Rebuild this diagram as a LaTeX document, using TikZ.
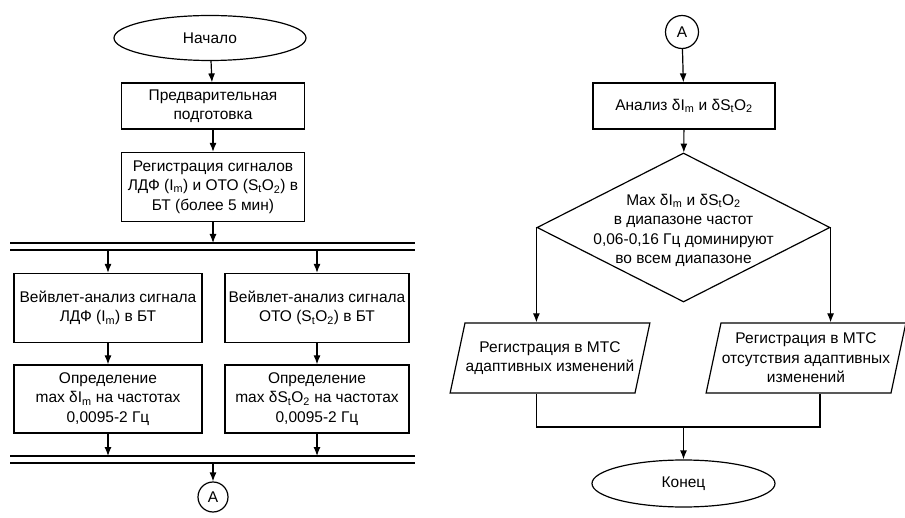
\documentclass[tikz,border=0pt]{standalone}
\usepackage{fontspec}
\setmainfont{Liberation Sans}
\usetikzlibrary{shapes.geometric, arrows.meta, positioning}

\begin{document}
\begin{tikzpicture}[x=1pt, y=-1pt, line width=1.2pt,
  every node/.style={font=\fontsize{15.5}{19.5}\selectfont, align=center},
  box/.style={draw, rectangle, minimum width=183pt, inner sep=1pt},
  term/.style={draw, ellipse, minimum width=192pt, minimum height=45pt},
  conn/.style={draw, circle, minimum size=30pt, inner sep=0pt},
  para/.style={draw, trapezium, trapezium left angle=78, trapezium right angle=102,
    inner xsep=85pt, inner ysep=35pt},
  arr/.style={-{Latex[length=9pt,width=7pt]}}]
  \useasboundingbox (0,0) rectangle (905,518);

  % left column
  \node[term] (start) at (210,38) {Начало};
  \node[box, minimum height=46pt] (prep) at (213,106) {Предварительная\\подготовка};
  \node[box, minimum height=69pt] (reg) at (213,187)
    {Регистрация сигналов\\ЛДФ (I\textsubscript{m}) и ОТО (S\textsubscript{t}O\textsubscript{2}) в\\БТ (более 5 мин)};

  \coordinate (bus1) at (213,243);
  \coordinate (bus1b) at (213,250);
  \draw (10,243) -- (415,243) (10,250) -- (415,250);

  \node[box, minimum width=188pt, minimum height=69pt] (wl) at (108,308)
    {Вейвлет-анализ сигнала\\ЛДФ (I\textsubscript{m}) в БТ};
  \node[box, minimum width=184pt, minimum height=69pt] (wr) at (317,308)
    {Вейвлет-анализ сигнала\\ОТО (S\textsubscript{t}O\textsubscript{2}) в БТ};
  \node[box, minimum width=188pt, minimum height=68pt] (dl) at (108,399)
    {Определение\\max δI\textsubscript{m} на частотах\\0,0095-2 Гц};
  \node[box, minimum width=184pt, minimum height=68pt] (dr) at (317,399)
    {Определение\\max δS\textsubscript{t}O\textsubscript{2} на частотах\\0,0095-2 Гц};

  \coordinate (bus2) at (213,456);
  \coordinate (bus2b) at (213,463);
  \draw (10,456) -- (415,456) (10,463) -- (415,463);

  \node[conn] (ca) at (213,497) {A};

  % right column
  \node[conn, minimum size=33pt] (cb) at (682,32) {A};
  \node[box, minimum width=182pt, minimum height=46pt] (an) at (684,106)
    {Анализ δI\textsubscript{m} и δS\textsubscript{t}O\textsubscript{2}};
  \node[draw, diamond, minimum width=293pt, minimum height=149pt, inner sep=0pt,
    label={[yshift=-3pt]center:{Max δI\textsubscript{m} и δS\textsubscript{t}O\textsubscript{2}\\в диапазоне частот\\0,06-0,16 Гц доминируют\\во всем диапазоне}}]
    (cond) at (683.5,227.5) {};
  \node[para, label={center:{Регистрация в МТС\\адаптивных изменений}}] (pl) at (550,358) {};
  \node[para, label={center:{Регистрация в МТС\\отсутствия адаптивных\\изменений}}] (pr) at (806,358) {};
  \node[term, minimum width=183pt, minimum height=47pt] (fin) at (683.5,483.5) {Конец};

  \coordinate (jr) at (820,427);
  \coordinate (jm) at (683.5,427);

  % connectors
  \draw[arr] (start) -- (prep);
  \draw[arr] (prep) -- (reg);
  \draw[arr] (reg) -- (bus1);
  \draw[arr] (wl |- bus1b) -- (wl);
  \draw[arr] (wr |- bus1b) -- (wr);
  \draw[arr] (wl) -- (dl);
  \draw[arr] (wr) -- (dr);
  \draw[arr] (dl) -- (dl |- bus2);
  \draw[arr] (dr) -- (dr |- bus2);
  \draw[arr] (bus2b) -- (ca);
  \draw[arr] (cb) -- (an);
  \draw[arr] (an) -- (cond);
  \draw[arr] (cond.west) -- (cond.west |- pl.north);
  \draw[arr] (cond.east) -- (cond.east |- pr.north);
  \draw (cond.west |- pl.south) |- (jr) -- (jr |- pr.south);
  \draw[arr] (jm) -- (fin);
\end{tikzpicture}
\end{document}
